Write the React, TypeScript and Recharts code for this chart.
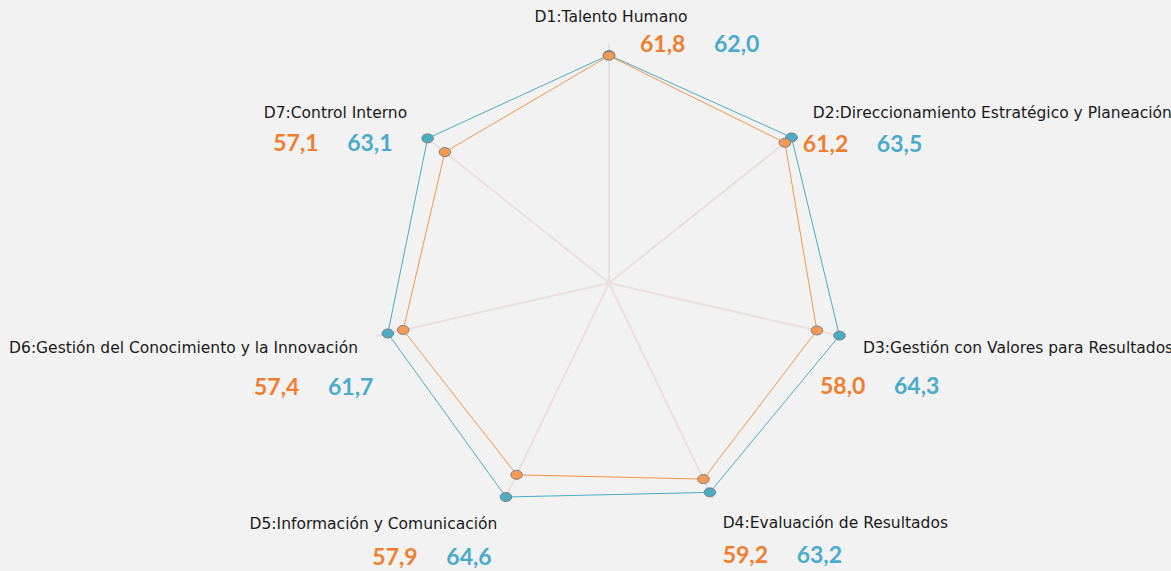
import { RadarChart, Radar, PolarGrid, PolarAngleAxis, PolarRadiusAxis } from 'recharts'

const categories = [
  'D1:Talento Humano',
  'D2:Direccionamiento Estratégico y Planeación',
  'D3:Gestión con Valores para Resultados',
  'D4:Evaluación de Resultados',
  'D5:Información y Comunicación',
  'D6:Gestión del Conocimiento y la Innovación',
  'D7:Control Interno'
]

const orangeValues = [61.8, 61.2, 58.0, 59.2, 57.9, 57.4, 57.1]
const blueValues = [62.0, 63.5, 64.3, 63.2, 64.6, 61.7, 63.1]

const ORANGE = '#F79646'
const ORANGE_TEXT = '#F07E2E'
const BLUE = '#4BACC6'
const BLUE_TEXT = '#4AABCB'

const CX = 609
const CY = 283
const R = 239

// label placement relative to each outer vertex
const labelLayout = [
  { lx: 2, ly: -22, anchor: 'middle', vx: 31, vy: 8 },
  { lx: 17, ly: -16, anchor: 'start', vx: 7, vy: 18 },
  { lx: 21, ly: 17, anchor: 'start', vx: -22, vy: 58 },
  { lx: 10, ly: 30, anchor: 'start', vx: 10, vy: 65 },
  { lx: -8, ly: 31, anchor: 'end', vx: -133, vy: 67 },
  { lx: -18, ly: 17, anchor: 'end', vx: -122, vy: 59 },
  { lx: -15, ly: -16, anchor: 'end', vx: -149, vy: 17 }
]

const data = categories.map((c, i) => ({
  category: c,
  orange: orangeValues[i],
  blue: blueValues[i]
}))

const fmt = (v: number) => v.toFixed(1).replace('.', ',')

function AngleTick(props: any) {
  const { payload } = props
  const i = categories.indexOf(payload.value)
  if (i < 0) return null
  const rad = (-payload.coordinate * Math.PI) / 180
  const vx = CX + R * Math.cos(rad)
  const vy = CY + R * Math.sin(rad)
  const l = labelLayout[i]
  return (
    <g>
      <text
        x={vx + l.lx}
        y={vy + l.ly}
        textAnchor={l.anchor}
        style={{ fontFamily: '"DejaVu Sans", sans-serif', fontSize: 15.5, fill: '#1a1a1a' }}
      >
        {payload.value}
      </text>
      <text
        x={vx + l.vx}
        y={vy + l.vy}
        style={{ fontFamily: 'Lato, sans-serif', fontWeight: 700, fontSize: 23, fill: ORANGE_TEXT }}
      >
        {fmt(orangeValues[i])}
      </text>
      <text
        x={vx + l.vx + 74}
        y={vy + l.vy}
        style={{ fontFamily: 'Lato, sans-serif', fontWeight: 700, fontSize: 23, fill: BLUE_TEXT }}
      >
        {fmt(blueValues[i])}
      </text>
    </g>
  )
}

const makeDot = (fill: string) => (props: any) => {
  const { cx, cy, index } = props
  return <ellipse key={index} cx={cx} cy={cy} rx={5.8} ry={4.5} fill={fill} stroke="#7F7F7F" strokeWidth={1} />
}

export default function App() {
  return (
    <div style={{ position: 'absolute', left: 0, top: 0, width: 1171, height: 571, background: '#F2F2F2' }}>
      <RadarChart width={1171} height={571} data={data} cx={CX} cy={CY} outerRadius={R}>
        <PolarGrid gridType="circle" polarRadius={[0]} stroke="#EADFDF" strokeWidth={2} />
        <PolarAngleAxis dataKey="category" tick={<AngleTick />} axisLine={false} tickLine={false} />
        <PolarRadiusAxis domain={[0, 65]} tick={false} axisLine={false} />
        <Radar
          dataKey="blue"
          stroke={BLUE}
          strokeWidth={1}
          fill="none"
          fillOpacity={0}
          dot={makeDot(BLUE)}
          isAnimationActive={false}
        />
        <Radar
          dataKey="orange"
          stroke={ORANGE}
          strokeWidth={1}
          fill="none"
          fillOpacity={0}
          dot={makeDot('#F59A55')}
          isAnimationActive={false}
        />
      </RadarChart>
    </div>
  )
}
